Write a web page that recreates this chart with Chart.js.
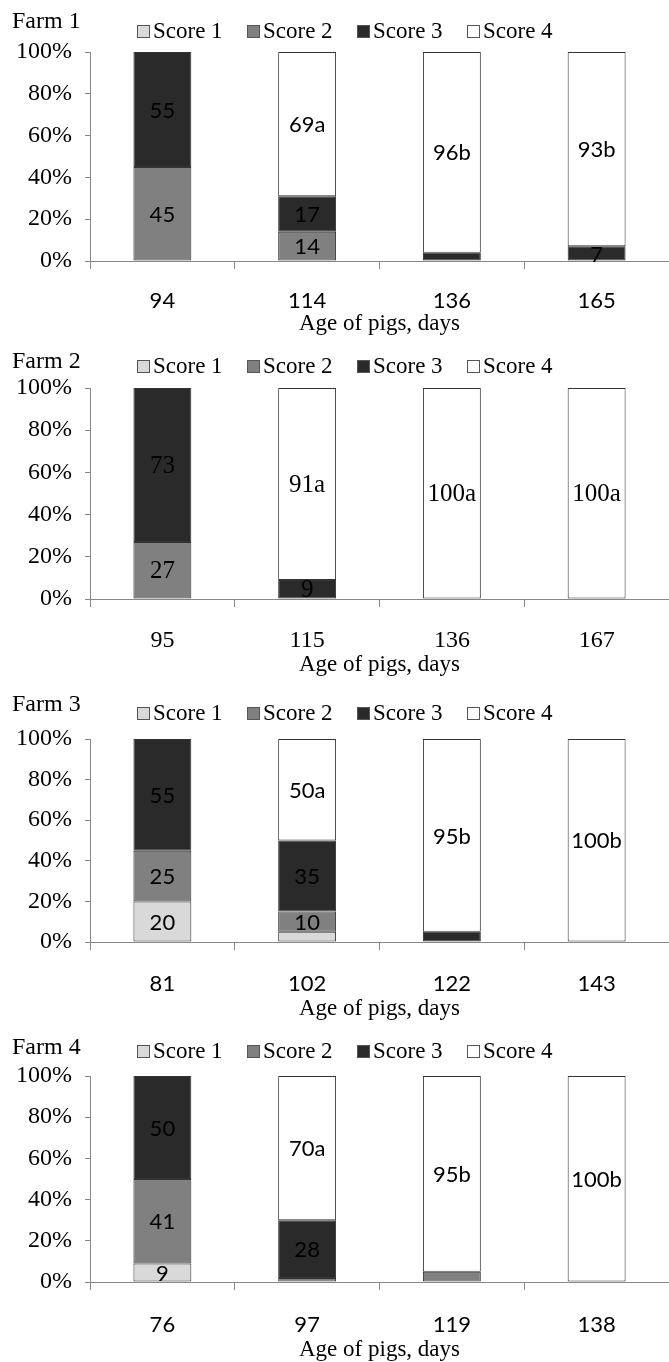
<!DOCTYPE html>
<html>
<head>
<meta charset="utf-8">
<script src="https://cdn.jsdelivr.net/npm/chart.js@4.4.1/dist/chart.umd.min.js"></script>
<style>
  html, body { margin: 0; padding: 0; background: #fff; }
  #wrap { position: relative; width: 669px; height: 1362px; overflow: hidden; }
  .panel { position: absolute; left: 0; width: 669px; }
  .panel canvas { display: block; }
</style>
</head>
<body>
<div id="wrap">
  <div class="panel" style="top:0px"><canvas id="farm1" width="669" height="340"></canvas></div>
  <div class="panel" style="top:340px"><canvas id="farm2" width="669" height="340"></canvas></div>
  <div class="panel" style="top:680px"><canvas id="farm3" width="669" height="345"></canvas></div>
  <div class="panel" style="top:1020px"><canvas id="farm4" width="669" height="345"></canvas></div>
</div>
<script>
// data (percent of pigs per score)
const scoreNames = ['Score 1', 'Score 2', 'Score 3', 'Score 4'];
const yTicks = [0, 20, 40, 60, 80, 100];

const farm1Days = ['94', '114', '136', '165'];
const farm1Score1 = [0, 0, 0, 0];
const farm1Score2 = [45, 14, 0, 0];
const farm1Score3 = [55, 17, 4, 7];
const farm1Score4 = [0, 69, 96, 93];
const farm1Letters = ['', 'a', 'b', 'b'];

const farm2Days = ['95', '115', '136', '167'];
const farm2Score1 = [0, 0, 0, 0];
const farm2Score2 = [27, 0, 0, 0];
const farm2Score3 = [73, 9, 0, 0];
const farm2Score4 = [0, 91, 100, 100];
const farm2Letters = ['', 'a', 'a', 'a'];

const farm3Days = ['81', '102', '122', '143'];
const farm3Score1 = [20, 5, 0, 0];
const farm3Score2 = [25, 10, 0, 0];
const farm3Score3 = [55, 35, 5, 0];
const farm3Score4 = [0, 50, 95, 100];
const farm3Letters = ['', 'a', 'b', 'b'];

const farm4Days = ['76', '97', '119', '138'];
const farm4Score1 = [9, 0, 0, 0];
const farm4Score2 = [41, 2, 5, 0];
const farm4Score3 = [50, 28, 0, 0];
const farm4Score4 = [0, 70, 95, 100];
const farm4Letters = ['', 'a', 'b', 'b'];

// styles
const scoreColors = ['#d9d9d9', '#808080', '#2a2a2a', '#ffffff'];
const SERIF = '"Liberation Serif", "Times New Roman", serif';
const SANS = 'Lato, Calibri, sans-serif';

// title "Farm N" + legend drawn above the plot
const headerPlugin = {
  id: 'header',
  afterDraw(chart, args, opts) {
    const ctx = chart.ctx;
    ctx.save();
    ctx.textBaseline = 'middle';
    ctx.textAlign = 'left';
    ctx.fillStyle = '#000';
    ctx.font = '24px ' + SERIF;
    ctx.fillText(opts.title, 12, opts.titleY);
    ctx.font = '23px ' + SERIF;
    chart.data.datasets.forEach((ds, i) => {
      const x = 137 + i * 110;
      const y = opts.legendY;
      ctx.fillStyle = ds.backgroundColor;
      ctx.fillRect(x, y - 6, 13, 13);
      ctx.strokeStyle = '#555';
      ctx.lineWidth = 1;
      ctx.strokeRect(x + 0.5, y - 5.5, 12, 12);
      ctx.fillStyle = '#000';
      ctx.fillText(ds.label, x + 16, y + 1);
    });
    ctx.restore();
  }
};

// value labels in the middle of each segment
const barLabelPlugin = {
  id: 'barLabels',
  afterDatasetsDraw(chart, args, opts) {
    const ctx = chart.ctx;
    ctx.save();
    ctx.font = opts.font;
    ctx.fillStyle = '#000';
    ctx.textAlign = 'center';
    ctx.textBaseline = 'middle';
    chart.data.datasets.forEach((ds, di) => {
      chart.getDatasetMeta(di).data.forEach((bar, i) => {
        const v = ds.data[i];
        if (v == null || v < 6) return;
        const txt = v + (di === 3 ? opts.letters[i] : '');
        ctx.fillText(txt, bar.x, (bar.y + bar.base) / 2 + 1);
      });
    });
    ctx.restore();
  }
};

function makeChart(id, title, days, scores, letters, lay) {
  new Chart(document.getElementById(id), {
    type: 'bar',
    data: {
      labels: days,
      datasets: scores.map((vals, i) => ({
        label: scoreNames[i],
        // empty segments are left out so no hairline is drawn
        data: vals.map(v => (v === 0 ? null : v)),
        backgroundColor: scoreColors[i],
        borderColor: '#333',
        borderWidth: 1,
        borderSkipped: false,
        barPercentage: 0.4,
        categoryPercentage: 1
      }))
    },
    options: {
      responsive: false,
      animation: false,
      layout: { padding: { top: lay.top, left: 0, right: 0, bottom: 0 } },
      plugins: {
        legend: { display: false },
        title: { display: false },
        tooltip: { enabled: false },
        header: { title: title, titleY: lay.titleY, legendY: lay.legendY },
        barLabels: { letters: letters, font: lay.labelFont }
      },
      scales: {
        x: {
          stacked: true,
          grid: { drawOnChartArea: false, offset: true, tickLength: 8, color: '#888' },
          border: { color: '#888' },
          ticks: { font: lay.tickFont, color: '#000', padding: lay.tickPad, maxRotation: 0 },
          title: {
            display: true, text: 'Age of pigs, days', color: '#000',
            font: { family: SERIF, size: 23 }, padding: { top: 0, bottom: lay.titlePad }
          },
          afterFit(scale) { scale.height = lay.bottomGap; }
        },
        y: {
          stacked: true,
          min: 0,
          max: 100,
          afterBuildTicks(scale) { scale.ticks = yTicks.map(v => ({ value: v })); },
          grid: { drawOnChartArea: false, tickLength: 5, color: '#888' },
          border: { color: '#888' },
          ticks: { callback: v => v + '%', color: '#000', padding: 13, font: { family: SERIF, size: 24 } },
          afterFit(scale) { scale.width = 90; }
        }
      }
    },
    plugins: [headerPlugin, barLabelPlugin]
  });
}

makeChart('farm1', 'Farm 1', farm1Days,
  [farm1Score1, farm1Score2, farm1Score3, farm1Score4], farm1Letters,
  { top: 52, bottomGap: 79, titleY: 22, legendY: 31, tickPad: 19, titlePad: 2,
    tickFont: { family: SANS, size: 22 }, labelFont: '22px ' + SANS });

makeChart('farm2', 'Farm 2', farm2Days,
  [farm2Score1, farm2Score2, farm2Score3, farm2Score4], farm2Letters,
  { top: 48, bottomGap: 81, titleY: 22, legendY: 26, tickPad: 19, titlePad: 1,
    tickFont: { family: SERIF, size: 24 }, labelFont: '25px ' + SERIF });

makeChart('farm3', 'Farm 3', farm3Days,
  [farm3Score1, farm3Score2, farm3Score3, farm3Score4], farm3Letters,
  { top: 59, bottomGap: 83, titleY: 25, legendY: 33, tickPad: 21, titlePad: 2,
    tickFont: { family: SANS, size: 22 }, labelFont: '22px ' + SANS });

makeChart('farm4', 'Farm 4', farm4Days,
  [farm4Score1, farm4Score2, farm4Score3, farm4Score4], farm4Letters,
  { top: 56, bottomGap: 83, titleY: 28, legendY: 31, tickPad: 22, titlePad: 1,
    tickFont: { family: SANS, size: 22 }, labelFont: '22px ' + SANS });
</script>
</body>
</html>
